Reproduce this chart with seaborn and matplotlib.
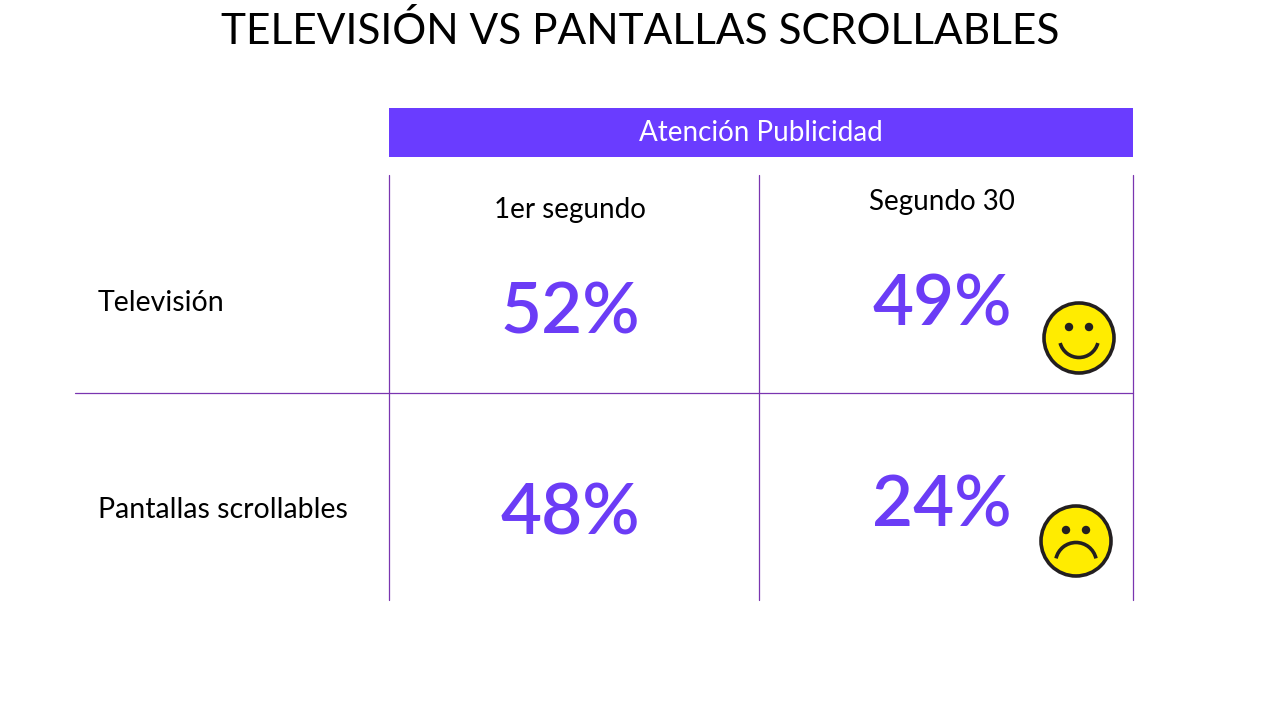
import matplotlib
matplotlib.use("Agg")
import matplotlib.pyplot as plt
import seaborn as sns
from matplotlib.patches import Circle, Arc, Rectangle

# data
title = "TELEVISIÓN VS PANTALLAS SCROLLABLES"
banner = "Atención Publicidad"
columns = ["1er segundo", "Segundo 30"]
rows = ["Televisión", "Pantallas scrollables"]
values = [[52, 49],
          [48, 24]]
moods = ["happy", "sad"]   # face shown next to the "Segundo 30" column

sns.set_theme(style="white")
plt.rcParams['font.family'] = ['Lato', 'DejaVu Sans']

purple = "#6b3cf6"
line_col = "#7a35b0"

# layout in pixels
col_edges = [389, 759, 1133]
row_edges = [175, 393, 600]
label_x = 98
col_dy = [0, -8]          # second column sits a little higher
val_dy = [30, 18]         # value offset from row centre

fig = plt.figure(figsize=(12.8, 7.2), dpi=100)
ax = fig.add_axes([0, 0, 1, 1])
ax.set_xlim(0, 1280)
ax.set_ylim(720, 0)
ax.axis("off")

ax.text(640, 31, title, ha="center", va="center", fontsize=30.5,
        color="black")

# banner
ax.add_patch(Rectangle((col_edges[0], 108), col_edges[-1] - col_edges[0], 49,
                       color="#6a3cff", lw=0))
ax.text((col_edges[0] + col_edges[-1]) / 2, 133, banner, ha="center",
        va="center", fontsize=20, color="white")

# grid lines
for x in col_edges:
    ax.plot([x, x], [row_edges[0], row_edges[-1]], color=line_col, lw=0.9)
ax.plot([75, col_edges[-1]], [row_edges[1], row_edges[1]], color=line_col,
        lw=0.9)

# column headers
for j, name in enumerate(columns):
    cx = (col_edges[j] + col_edges[j + 1]) / 2 - 4
    ax.text(cx, 210 + col_dy[j], name, ha="center", va="center",
            fontsize=20, color="black")

# row labels and values
for i, name in enumerate(rows):
    cy = (row_edges[i] + row_edges[i + 1]) / 2
    ax.text(label_x, cy + 19 - 5 * i, name, ha="left", va="center",
            fontsize=20.5, color="black")
    for j in range(len(columns)):
        cx = (col_edges[j] + col_edges[j + 1]) / 2 - 4
        ax.text(cx, cy + val_dy[i] + col_dy[j], f"{values[i][j]}%",
                ha="center", va="center", fontsize=51, color=purple,
                fontweight="semibold")


def face(ax, cx, cy, mood):
    ax.add_patch(Circle((cx, cy), 35, facecolor="#ffec00",
                        edgecolor="#231f20", lw=2.6, zorder=3))
    for ex in (-10, 10):
        ax.add_patch(Circle((cx + ex, cy - 11), 3.5, color="#231f20",
                            zorder=4))
    if mood == "happy":
        ax.add_patch(Arc((cx, cy), 39, 39, theta1=15, theta2=165,
                         color="#231f20", lw=2.6, zorder=4))
    else:
        ax.add_patch(Arc((cx, cy + 22), 41, 41, theta1=193, theta2=347,
                         color="#231f20", lw=2.6, zorder=4))


face(ax, 1079, 338, moods[0])
face(ax, 1076, 541, moods[1])

fig.savefig("out.png", dpi=100)
